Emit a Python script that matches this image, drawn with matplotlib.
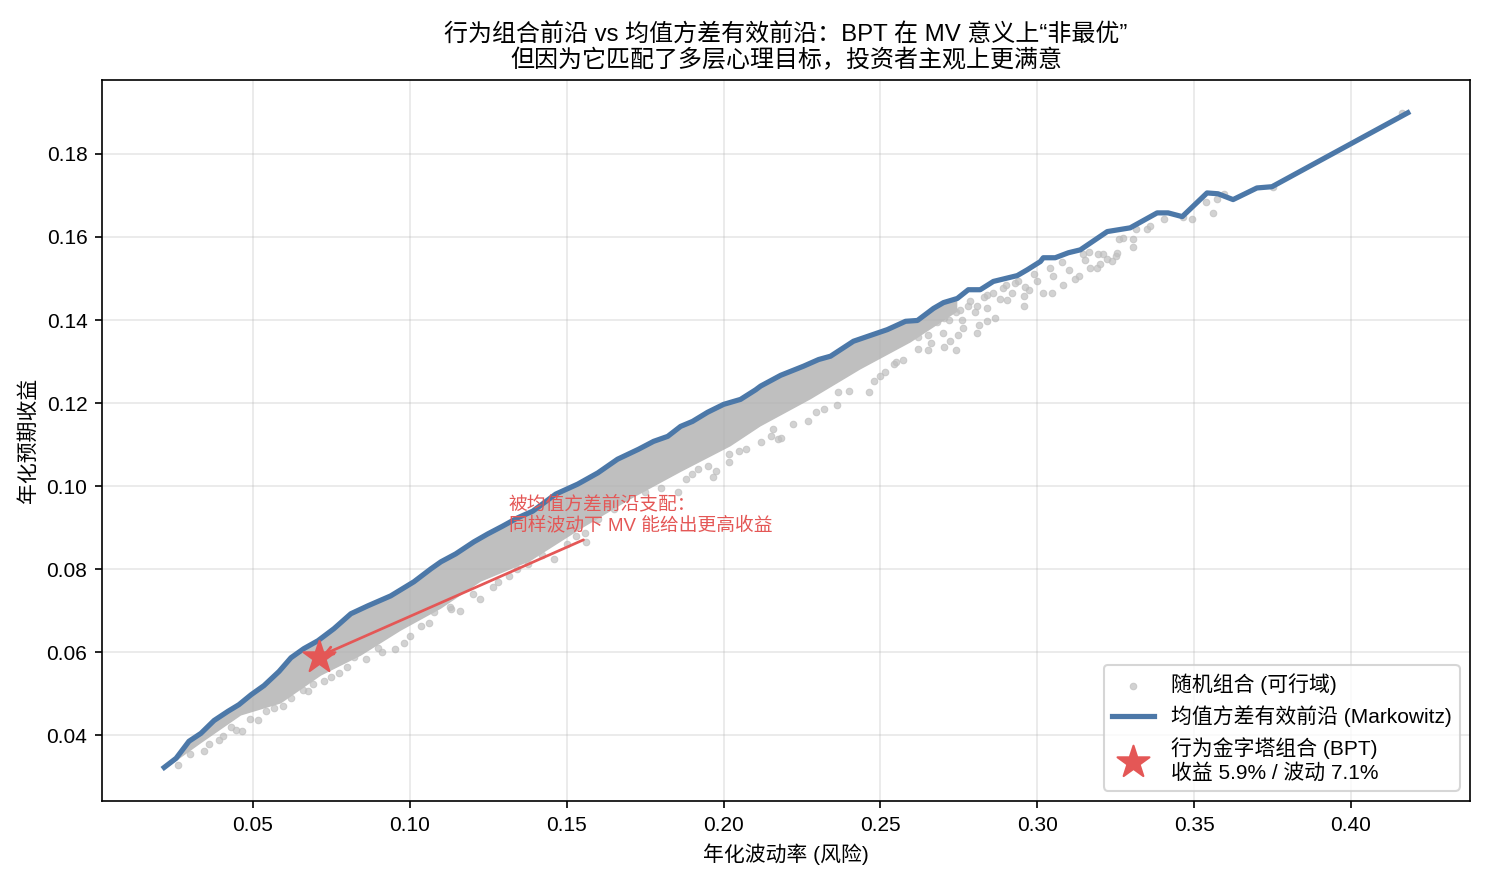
import numpy as np
import matplotlib
matplotlib.use("Agg")
from matplotlib import pyplot as plt

plt.rcParams['font.family'] = ['Liberation Sans', 'Noto Sans CJK SC', 'DejaVu Sans']
plt.rcParams['axes.unicode_minus'] = False

# efficient frontier (vol, return)
front_vol = [0.0217, 0.0255, 0.0296, 0.0334, 0.0376, 0.0420, 0.0455, 0.0494, 0.0535, 0.0583,
             0.0621, 0.0662, 0.0707, 0.0758, 0.0812, 0.0866, 0.0939, 0.1013, 0.1067, 0.1099,
             0.1146, 0.1204, 0.1248, 0.1296, 0.1344, 0.1392, 0.1465, 0.1535, 0.1599, 0.1662,
             0.1729, 0.1777, 0.1822, 0.1863, 0.1901, 0.1949, 0.2000, 0.2054, 0.2102, 0.2118,
             0.2182, 0.2255, 0.2303, 0.2341, 0.2414, 0.2468, 0.2522, 0.2580, 0.2618, 0.2669,
             0.2701, 0.2745, 0.2780, 0.2818, 0.2860, 0.2936, 0.2968, 0.3010, 0.3019, 0.3057,
             0.3099, 0.3137, 0.3223, 0.3296, 0.3382, 0.3417, 0.3462, 0.3541, 0.3576, 0.3624,
             0.3700, 0.3748, 0.4181]
front_ret = [0.0323, 0.0345, 0.0386, 0.0405, 0.0436, 0.0458, 0.0474, 0.0498, 0.0520, 0.0554,
             0.0587, 0.0609, 0.0628, 0.0657, 0.0693, 0.0712, 0.0736, 0.0770, 0.0801, 0.0818,
             0.0837, 0.0866, 0.0885, 0.0904, 0.0924, 0.0940, 0.0981, 0.1005, 0.1032, 0.1065,
             0.1089, 0.1108, 0.1120, 0.1144, 0.1156, 0.1178, 0.1197, 0.1209, 0.1232, 0.1241,
             0.1267, 0.1289, 0.1305, 0.1313, 0.1349, 0.1363, 0.1377, 0.1397, 0.1399, 0.1428,
             0.1442, 0.1452, 0.1473, 0.1473, 0.1493, 0.1507, 0.1521, 0.1541, 0.1550, 0.1550,
             0.1562, 0.1569, 0.1613, 0.1622, 0.1658, 0.1658, 0.1649, 0.1706, 0.1704, 0.1690,
             0.1718, 0.1721, 0.1899]

# lower edge of the dense core of random portfolios (top edge is the frontier)
band_vol = [0.0223, 0.0334, 0.0462, 0.0589, 0.0717, 0.0844, 0.0971, 0.1099, 0.1226, 0.1385,
            0.1545, 0.1704, 0.1863, 0.2022, 0.2118, 0.2277, 0.2436, 0.2596, 0.2745]
band_lo = [0.0321, 0.0381, 0.0448, 0.0477, 0.0544, 0.0592, 0.0652, 0.0705, 0.0770, 0.0820,
           0.0897, 0.0969, 0.1034, 0.1096, 0.1144, 0.1209, 0.1281, 0.1346, 0.1420]

# loose random portfolios
scatter_vol = [0.0261, 0.0344, 0.0392, 0.0404, 0.0446, 0.0465, 0.0516, 0.0567, 0.0596, 0.0675,
               0.0691, 0.0726, 0.0774, 0.0822, 0.0911, 0.0952, 0.0981, 0.1035, 0.1076, 0.1127,
               0.1131, 0.1223, 0.1264, 0.1315, 0.1376, 0.1459, 0.1529, 0.1561, 0.1557, 0.1854,
               0.1879, 0.1917, 0.1949, 0.1965, 0.1975, 0.2016, 0.2016, 0.2073, 0.2118, 0.2156,
               0.2175, 0.2182, 0.2268, 0.2293, 0.2363, 0.2366, 0.2462, 0.2478, 0.2513, 0.2542,
               0.2573, 0.2650, 0.2704, 0.2742, 0.2723, 0.2748, 0.2764, 0.2809, 0.2815, 0.2841,
               0.2866, 0.2904, 0.2959, 0.2956, 0.2975, 0.3019, 0.3048, 0.3083, 0.3134, 0.3169,
               0.3191, 0.2860, 0.2809, 0.2755, 0.2701, 0.3166, 0.3194, 0.3210, 0.3223, 0.3239,
               0.3255, 0.3261, 0.3274, 0.3306, 0.3306, 0.3315, 0.3350, 0.3360, 0.3404, 0.3465,
               0.3493, 0.3538, 0.3561, 0.3573, 0.3596, 0.3752, 0.4162, 0.3146, 0.3153, 0.2620,
               0.2680, 0.2785, 0.2830, 0.2890, 0.2930, 0.2990, 0.3040, 0.3080, 0.2650, 0.2720,
               0.2560, 0.2600,
               0.0300, 0.0360, 0.0430, 0.0490, 0.0540, 0.0620, 0.0660, 0.0750, 0.0800, 0.0860,
               0.0900, 0.1000, 0.1060, 0.1160, 0.1200, 0.1280, 0.1340, 0.1420, 0.1500, 0.1600,
               0.1650, 0.1750, 0.1800, 0.1900, 0.2050, 0.2150, 0.2220, 0.2320, 0.2400, 0.2500,
               0.2550, 0.2620, 0.2660, 0.2700, 0.2760, 0.2800, 0.2840, 0.2880, 0.2920, 0.2960,
               0.3000, 0.2620, 0.2680, 0.2740, 0.2780, 0.2840, 0.2900, 0.2940, 0.3050, 0.3100,
               0.3120, 0.3200, 0.3250]
scatter_ret = [0.0330, 0.0362, 0.0388, 0.0398, 0.0414, 0.0410, 0.0438, 0.0467, 0.0472, 0.0506,
               0.0525, 0.0532, 0.0551, 0.0590, 0.0602, 0.0609, 0.0623, 0.0664, 0.0698, 0.0710,
               0.0705, 0.0729, 0.0758, 0.0784, 0.0813, 0.0825, 0.0880, 0.0866, 0.0888, 0.0986,
               0.1017, 0.1041, 0.1048, 0.1022, 0.1036, 0.1058, 0.1077, 0.1089, 0.1106, 0.1137,
               0.1113, 0.1116, 0.1156, 0.1178, 0.1195, 0.1226, 0.1226, 0.1253, 0.1274, 0.1293,
               0.1303, 0.1327, 0.1334, 0.1329, 0.1349, 0.1365, 0.1380, 0.1370, 0.1389, 0.1397,
               0.1406, 0.1449, 0.1433, 0.1457, 0.1473, 0.1464, 0.1466, 0.1485, 0.1505, 0.1526,
               0.1526, 0.1466, 0.1433, 0.1425, 0.1406, 0.1565, 0.1558, 0.1558, 0.1548, 0.1543,
               0.1562, 0.1594, 0.1598, 0.1596, 0.1577, 0.1618, 0.1618, 0.1627, 0.1644, 0.1649,
               0.1644, 0.1685, 0.1658, 0.1692, 0.1704, 0.1721, 0.1899, 0.1560, 0.1545, 0.1385,
               0.1410, 0.1445, 0.1455, 0.1478, 0.1490, 0.1510, 0.1525, 0.1540, 0.1365, 0.1400,
               0.1350, 0.1365,
               0.0355, 0.0380, 0.0420, 0.0440, 0.0460, 0.0490, 0.0510, 0.0540, 0.0565, 0.0585,
               0.0610, 0.0640, 0.0670, 0.0700, 0.0740, 0.0770, 0.0800, 0.0835, 0.0860, 0.0920,
               0.0945, 0.0985, 0.0995, 0.1030, 0.1085, 0.1120, 0.1150, 0.1185, 0.1230, 0.1265,
               0.1300, 0.1330, 0.1345, 0.1370, 0.1400, 0.1420, 0.1430, 0.1450, 0.1465, 0.1480,
               0.1495, 0.1360, 0.1395, 0.1420, 0.1435, 0.1460, 0.1485, 0.1495, 0.1505, 0.1520,
               0.1500, 0.1535, 0.1555]

bpt_vol = 0.071
bpt_ret = 0.059

GRAY = '#bfbfbf'
BLUE = '#4c78a8'
RED = '#e45756'

fig = plt.figure(figsize=(9.9, 5.88), dpi=150)
ax = fig.add_axes([0.0687, 0.0918, 0.9212, 0.8175])

# dense cloud: polygon bounded above by the frontier, below by the band edge
top = [(v, r) for v, r in zip(front_vol, front_ret) if v <= band_vol[-1]]
poly_x = [p[0] for p in top] + band_vol[::-1]
poly_y = [p[1] for p in top] + band_lo[::-1]
ax.fill(poly_x, poly_y, color=GRAY, lw=0, zorder=1)

ax.scatter(scatter_vol, scatter_ret, s=10, color=GRAY, alpha=0.7, lw=0.5,
           label='随机组合 (可行域)', zorder=1)
ax.plot(front_vol, front_ret, color=BLUE, lw=2.5, label='均值方差有效前沿 (Markowitz)', zorder=3)
ax.scatter([bpt_vol], [bpt_ret], marker='*', s=260, color=RED, zorder=4,
           label=f'行为金字塔组合 (BPT)\n收益 {bpt_ret*100:.1f}% / 波动 {bpt_vol*100:.1f}%')

ax.annotate('被均值方差前沿支配：\n同样波动下 MV 能给出更高收益',
            xy=(bpt_vol, bpt_ret), xytext=(0.1315, 0.0885),
            ha='left', va='bottom', fontsize=9, color=RED,
            arrowprops=dict(arrowstyle='->', color=RED, lw=1.3), zorder=5)

ax.set_title('行为组合前沿 vs 均值方差有效前沿：BPT 在 MV 意义上“非最优”\n但因为它匹配了多层心理目标，投资者主观上更满意',
             fontsize=11.5)
ax.set_xlabel('年化波动率 (风险)', fontsize=10)
ax.set_ylabel('年化预期收益', fontsize=10)
ax.grid(True, alpha=0.3)
ax.legend(loc='lower right', fontsize=10)

fig.savefig('out.png', dpi=150)
